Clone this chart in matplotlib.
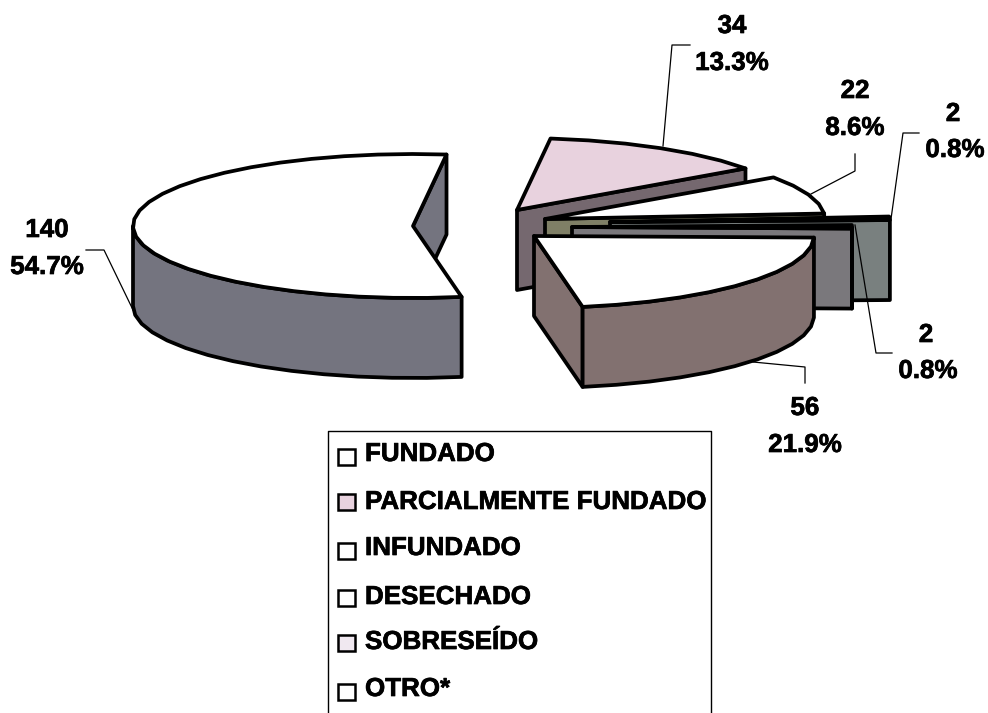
import numpy as np
import matplotlib
matplotlib.use('Agg')
import matplotlib.pyplot as plt
import matplotlib.patheffects as pe
from matplotlib.patches import Polygon, Rectangle

plt.rcParams['font.family'] = ['Liberation Sans', 'DejaVu Sans']

categories = ['FUNDADO', 'PARCIALMENTE FUNDADO', 'INFUNDADO', 'DESECHADO', 'SOBRESEÍDO', 'OTRO*']
counts = [140, 34, 22, 2, 2, 56]
percents = ['54.7%', '13.3%', '8.6%', '0.8%', '0.8%', '21.9%']

top_colors = ['#ffffff', '#e8d2de', '#ffffff', '#ffffff', '#f0e8f0', '#ffffff']
side_colors = ['#74747f', '#75686f', '#7f7f66', '#79807f', '#7a787c', '#827170']

# pixel layout of the exploded slices
apexes = [(413, 226), (517, 210), (545, 219), (610, 222), (572, 227), (534, 236)]
RX, RY, DEPTH = 280, 72, 80
START = 280
STEP = 7

fig = plt.figure(figsize=(9.88, 7.13), dpi=100)
ax = fig.add_axes([0, 0, 1, 1])
ax.set_xlim(0, 988)
ax.set_ylim(713, 0)
ax.axis('off')

heavy = [pe.withStroke(linewidth=0.5, foreground='black')]


def arc(apex, t1, t2):
    n = max(int(abs(t2 - t1) / STEP), 1) + 1
    t = np.radians(np.linspace(t1, t2, n))
    return np.column_stack([apex[0] + RX * np.cos(t), apex[1] - RY * np.sin(t)])


def draw_slice(apex, low, high, top, side):
    lw = 2.7
    apex = np.array(apex, dtype=float)
    drop = np.array([0, DEPTH])
    # cut face on the low angle side
    if np.cos(np.radians(low)) > 0:
        p = arc(apex, low, low)[0]
        ax.add_patch(Polygon([apex, p, p + drop, apex + drop], fc=side, ec='black', lw=lw, joinstyle='round'))
    if np.cos(np.radians(high)) < 0:
        p = arc(apex, high, high)[0]
        ax.add_patch(Polygon([apex, p, p + drop, apex + drop], fc=side, ec='black', lw=lw, joinstyle='round'))
    # rim, only the half that faces the viewer
    for a, b in [(180, 360), (540, 720), (-180, 0)]:
        t1, t2 = max(low, a), min(high, b)
        if t2 > t1:
            upper = arc(apex, t1, t2)
            ax.add_patch(Polygon(np.vstack([upper, (upper + drop)[::-1]]), fc=side, ec='black', lw=lw, joinstyle='round'))
    ax.add_patch(Polygon(np.vstack([apex, arc(apex, low, high)]), fc=top, ec='black', lw=lw, joinstyle='round'))


# slices run clockwise from START, FUNDADO first
total = sum(counts)
angle = START
spans = []
for c in counts:
    spans.append((angle - c / total * 360, angle))
    angle -= c / total * 360

for i in [0, 1, 2, 3, 4, 5]:
    low, high = spans[i]
    if i == 5:
        low, high = low + 360, high + 360
    draw_slice(apexes[i], low, high, top_colors[i], side_colors[i])

# leader lines
leaders = [
    [(135, 314), (104, 250), (86, 250)],
    [(663, 146), (672, 45), (690, 45)],
    [(811, 194), (855, 171), (855, 154)],
    [(891, 219), (903, 133), (919, 133)],
    [(855, 225), (876, 353), (892, 353)],
    [(753, 362), (805, 367), (805, 383)],
]
for pts in leaders:
    ax.plot(*zip(*pts), color='black', lw=0.9, zorder=1.5)

# data labels: x, y of count, x, y of percent
label_pos = [(47, 230, 47, 267), (732, 26, 732, 63), (855, 91, 855, 128),
             (953, 114, 955, 150), (926, 335, 928, 371), (805, 408, 805, 445)]
for (x1, y1, x2, y2), c, p in zip(label_pos, counts, percents):
    ax.text(x1, y1, str(c), ha='center', va='center', fontsize=18.7, fontweight='bold', path_effects=heavy)
    ax.text(x2, y2, p, ha='center', va='center', fontsize=18.7, fontweight='bold', path_effects=heavy)

# legend box, open at the bottom edge of the image
ax.plot([328, 328, 711, 711], [713, 431, 431, 713], color='black', lw=1.0)
box_y = [457, 502, 551, 598, 643, 692]
text_y = [454, 502, 548, 597, 642, 689]
for name, col, by, ty in zip(categories, top_colors, box_y, text_y):
    ax.add_patch(Rectangle((338, by - 8), 17, 16, fc=col, ec='black', lw=1.8))
    ax.text(365, ty, name, ha='left', va='center', fontsize=18.7, fontweight='bold', path_effects=heavy)

fig.savefig('out.png', dpi=100)
